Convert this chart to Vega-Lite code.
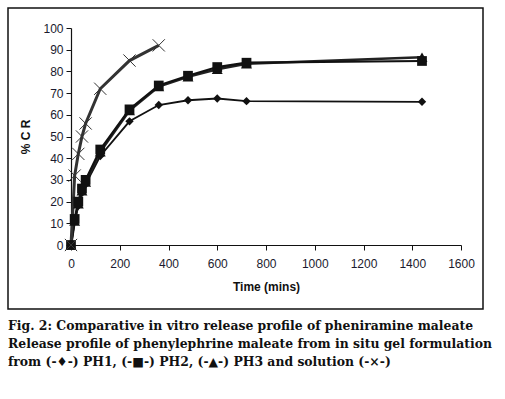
{
  "$schema": "https://vega.github.io/schema/vega-lite/v6.json",
  "width": 475,
  "height": 301,
  "autosize": {"type": "none"},
  "padding": {"left": 8, "top": 8, "right": 22, "bottom": 90},
  "background": "white",
  "config": {
    "view": {"stroke": "#111", "strokeWidth": 1.5},
    "axis": {"grid": false, "domainColor": "#111", "tickColor": "#111", "labelColor": "#1a1a2e", "labelFont": "Liberation Sans", "labelFontSize": 12, "titleFont": "Liberation Sans", "titleFontSize": 12, "titleFontWeight": "bold", "titleColor": "#111", "tickSize": 5, "domainWidth": 1.2, "labelFlush": false}
  },
  "title": {
    "text": [
      "Fig. 2: Comparative in vitro release profile of pheniramine maleate",
      "Release profile of phenylephrine maleate from in situ gel formulation",
      "from (-♦-) PH1, (-■-) PH2, (-▲-) PH3 and solution (-×-)"
    ],
    "orient": "bottom",
    "anchor": "start",
    "frame": "bounds",
    "font": "DejaVu Serif",
    "fontSize": 12.4,
    "fontWeight": "bold",
    "color": "#111",
    "lineHeight": 18,
    "offset": 11
  },
  "data": {
    "values": [
      {"series": "PH1", "time": 0, "cr": 0},
      {"series": "PH1", "time": 15, "cr": 11},
      {"series": "PH1", "time": 30, "cr": 18},
      {"series": "PH1", "time": 45, "cr": 24},
      {"series": "PH1", "time": 60, "cr": 28},
      {"series": "PH1", "time": 120, "cr": 41},
      {"series": "PH1", "time": 240, "cr": 57},
      {"series": "PH1", "time": 360, "cr": 64.5},
      {"series": "PH1", "time": 480, "cr": 66.7},
      {"series": "PH1", "time": 600, "cr": 67.5},
      {"series": "PH1", "time": 720, "cr": 66.3},
      {"series": "PH1", "time": 1440, "cr": 66},
      {"series": "PH3", "time": 0, "cr": 0},
      {"series": "PH3", "time": 15, "cr": 11},
      {"series": "PH3", "time": 30, "cr": 19},
      {"series": "PH3", "time": 45, "cr": 25},
      {"series": "PH3", "time": 60, "cr": 29},
      {"series": "PH3", "time": 120, "cr": 43},
      {"series": "PH3", "time": 240, "cr": 62},
      {"series": "PH3", "time": 360, "cr": 73},
      {"series": "PH3", "time": 480, "cr": 77.5},
      {"series": "PH3", "time": 600, "cr": 81},
      {"series": "PH3", "time": 720, "cr": 83.5},
      {"series": "PH3", "time": 1440, "cr": 86.5},
      {"series": "PH2", "time": 0, "cr": 0},
      {"series": "PH2", "time": 15, "cr": 12},
      {"series": "PH2", "time": 30, "cr": 20},
      {"series": "PH2", "time": 45, "cr": 26},
      {"series": "PH2", "time": 60, "cr": 30},
      {"series": "PH2", "time": 120, "cr": 44},
      {"series": "PH2", "time": 240, "cr": 62.5},
      {"series": "PH2", "time": 360, "cr": 73.5},
      {"series": "PH2", "time": 480, "cr": 78},
      {"series": "PH2", "time": 600, "cr": 82},
      {"series": "PH2", "time": 720, "cr": 84},
      {"series": "PH2", "time": 1440, "cr": 84.8},
      {"series": "Solution", "time": 0, "cr": 0},
      {"series": "Solution", "time": 15, "cr": 32},
      {"series": "Solution", "time": 30, "cr": 42},
      {"series": "Solution", "time": 45, "cr": 50},
      {"series": "Solution", "time": 60, "cr": 56},
      {"series": "Solution", "time": 120, "cr": 72},
      {"series": "Solution", "time": 240, "cr": 85},
      {"series": "Solution", "time": 360, "cr": 92}
    ]
  },
  "encoding": {
    "x": {
      "field": "time", "type": "quantitative",
      "scale": {"domain": [0, 1600], "range": [63, 453], "nice": false},
      "axis": {"title": "Time (mins)", "values": [0, 200, 400, 600, 800, 1000, 1200, 1400, 1600], "format": "d", "offset": -64, "labelPadding": 8, "titlePadding": 12}
    },
    "y": {
      "field": "cr", "type": "quantitative",
      "scale": {"domain": [0, 100], "range": [237, 20], "nice": false},
      "axis": {"title": "% C R", "values": [0, 10, 20, 30, 40, 50, 60, 70, 80, 90, 100], "offset": -63, "labelPadding": 3, "titlePadding": 10}
    }
  },
  "layer": [
    {
      "mark": {"type": "line"},
      "encoding": {
        "detail": {"field": "series"},
        "color": {"field": "series", "type": "nominal", "legend": null, "scale": {"domain": ["PH1", "PH2", "PH3", "Solution"], "range": ["#111", "#111", "#222", "#333"]}},
        "strokeWidth": {"field": "series", "type": "nominal", "legend": null, "scale": {"domain": ["PH1", "PH2", "PH3", "Solution"], "range": [1.8, 3, 2, 1.3]}}
      }
    },
    {
      "transform": [{"filter": "datum.series !== 'Solution'"}],
      "mark": {"type": "point", "filled": true, "opacity": 1},
      "encoding": {
        "shape": {"field": "series", "type": "nominal", "legend": null, "scale": {"domain": ["PH1", "PH2", "PH3"], "range": ["diamond", "square", "triangle-up"]}},
        "size": {"field": "series", "type": "nominal", "legend": null, "scale": {"domain": ["PH1", "PH2", "PH3"], "range": [70, 120, 80]}},
        "color": {"value": "#111"}
      }
    },
    {
      "transform": [{"filter": "datum.series === 'Solution'"}],
      "mark": {"type": "point", "shape": "M-1,-1L1,1M-1,1L1,-1", "size": 150, "filled": false, "strokeWidth": 1, "opacity": 1, "color": "#333"},
      "encoding": {}
    }
  ]
}
